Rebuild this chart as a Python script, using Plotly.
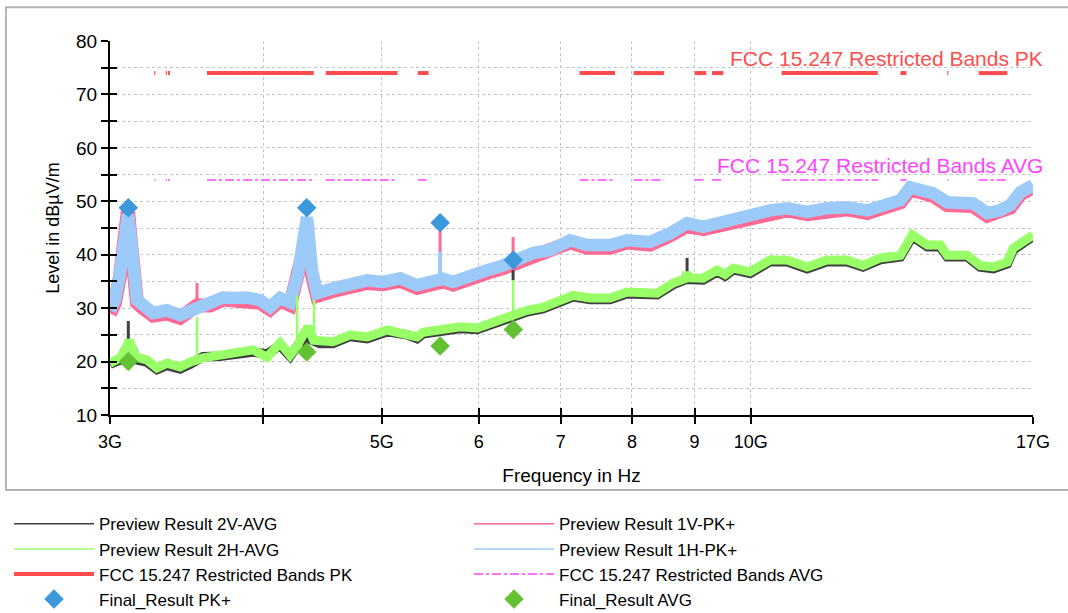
import numpy as np
import plotly.graph_objects as go

# ---------------- data (frequencies in GHz, levels in dBuV/m) ----------------
pk_freq_ghz = [3.000, 3.028, 3.057, 3.086, 3.103, 3.121, 3.133, 3.156, 3.192, 3.253,
               3.339, 3.422, 3.533, 3.621, 3.710, 3.780, 3.881, 3.977, 4.053, 4.130,
               4.208, 4.272, 4.313, 4.344, 4.386, 4.427, 4.562, 4.711, 4.864, 5.013,
               5.174, 5.342, 5.444, 5.547, 5.579, 5.611, 5.717, 5.902,
               6.094, 6.280, 6.399, 6.484, 6.644, 6.860, 7.122, 7.353,
               7.678, 7.927, 8.277, 8.594, 8.874, 9.146, 9.389, 9.621, 9.989, 10.37,
               10.71, 11.12, 11.54, 11.99, 12.45, 12.93, 13.25, 13.50, 13.75, 14.09,
               14.47, 14.83, 15.19, 15.60, 15.98, 16.29, 16.60, 17.00]
pk_1h = [29.6, 31.5, 36.5, 46.5, 47.5, 42.7, 35.8, 31.5, 30.6, 29.1,
         29.6, 28.7, 30.0, 31.0, 32.0, 31.9, 32.0, 31.5, 30.2, 31.9,
         31.1, 36.5, 44.0, 47.0, 37.0, 32.8, 33.7, 34.3, 35.2, 34.9,
         35.6, 34.3, 34.9, 35.5, 35.6, 35.5, 34.9, 36.2,
         37.1, 38.0, 38.8, 39.3, 40.3, 40.9, 42.7, 41.8,
         41.8, 42.7, 42.4, 44.0, 45.9, 45.2, 45.9, 46.5, 47.0, 48.3,
         48.7, 48.0, 48.7, 48.9, 48.3, 49.3, 50.2, 52.6, 52.1, 51.5,
         49.8, 49.8, 49.6, 47.8, 48.3, 49.3, 51.7, 53.0]
pk_1v = [29.0, 31.0, 36.0, 47.0, 48.3, 42.0, 35.2, 31.0, 30.0, 28.6,
         29.0, 28.2, 30.5, 30.5, 31.6, 31.4, 31.6, 31.0, 29.8, 31.4,
         30.6, 37.5, 40.5, 40.0, 36.0, 32.3, 33.2, 33.9, 34.7, 34.5,
         35.1, 33.8, 34.5, 35.0, 35.0, 35.0, 34.4, 35.7,
         36.6, 37.5, 38.2, 38.8, 39.8, 40.5, 42.3, 41.3,
         41.3, 42.3, 41.9, 43.6, 45.4, 44.8, 45.4, 46.0, 46.6, 47.8,
         48.3, 47.6, 48.2, 48.5, 47.8, 48.9, 49.8, 52.3, 51.7, 51.0,
         49.3, 49.3, 49.1, 47.3, 47.8, 48.8, 51.3, 52.6]

avg_freq_ghz = [3.000, 3.057, 3.086, 3.109, 3.133, 3.156, 3.216, 3.277, 3.339, 3.422,
                3.487, 3.530, 3.537, 3.573, 3.689, 3.809, 3.924, 4.030, 4.130, 4.208,
                4.260, 4.268, 4.288, 4.352, 4.398, 4.406, 4.450, 4.562, 4.711, 4.864,
                5.050, 5.243, 5.342, 5.404, 5.611, 5.793, 5.981, 6.164, 6.363, 6.395,
                6.403, 6.570, 6.771, 6.987, 7.163, 7.394, 7.678, 7.927, 8.170, 8.387,
                8.644, 8.860, 8.874, 8.888, 9.146, 9.389, 9.530, 9.680, 9.989, 10.37,
                10.71, 11.12, 11.54, 11.99, 12.35, 12.76, 13.25, 13.55, 13.94, 14.28,
                14.47, 15.02, 15.39, 15.78, 16.20, 16.38, 17.00]
avg_2h = [19.7, 20.7, 22.0, 24.0, 22.0, 20.8, 20.3, 18.8, 19.7, 19.0,
          19.9, 20.4, 20.5, 20.7, 21.2, 21.6, 22.2, 20.8, 23.5, 21.2,
          22.5, 23.0, 24.0, 26.5, 24.0, 24.0, 23.7, 23.7, 25.0, 24.6,
          25.9, 25.3, 24.6, 25.5, 25.9, 26.5, 26.3, 27.4, 28.7, 28.9,
          29.0, 29.6, 30.2, 31.5, 32.4, 31.9, 31.9, 33.0, 32.8, 32.8,
          34.7, 35.6, 36.8, 35.7, 35.6, 37.1, 36.3, 37.5, 36.8, 39.0,
          39.0, 37.7, 39.0, 39.0, 38.0, 39.4, 39.9, 43.7, 41.8, 41.8,
          39.9, 39.9, 38.0, 37.7, 38.6, 41.2, 43.7]
avg_2v = [19.5, 20.3, 22.0, 23.4, 22.0, 20.3, 19.9, 18.5, 19.3, 18.6,
          19.5, 20.0, 20.1, 20.9, 21.0, 21.3, 21.8, 21.4, 23.0, 21.0,
          22.3, 22.8, 23.6, 24.3, 23.8, 23.8, 23.4, 23.4, 24.7, 24.3,
          25.6, 25.0, 24.3, 25.2, 25.6, 26.2, 26.0, 27.1, 28.4, 28.6,
          28.7, 29.3, 29.9, 31.2, 32.1, 31.6, 31.6, 32.7, 32.5, 32.5,
          34.4, 35.4, 36.5, 35.4, 35.3, 36.8, 36.0, 37.2, 36.5, 38.7,
          38.7, 37.4, 38.7, 38.7, 37.7, 39.1, 39.6, 43.4, 41.5, 41.5,
          39.6, 39.6, 37.7, 37.4, 38.3, 40.9, 43.4]

# narrow single-bin spikes (frequency, level at the foot, level at the tip)
spike_2h_ghz = [3.533, 4.264, 4.402, 6.399]
spike_2h_base = [20.4, 22.8, 24.0, 28.9]
spike_2h_top = [28.3, 32.4, 31.5, 35.2]
spike_2v_ghz = [3.105, 6.399, 8.874]
spike_2v_base = [23.0, 35.2, 36.8]
spike_2v_top = [27.6, 37.1, 39.4]
spike_1v_ghz = [3.533, 5.579, 6.399]
spike_1v_base = [30.5, 35.0, 38.2]
spike_1v_top = [34.7, 44.5, 43.3]
spike_1h_ghz = [5.579]
spike_1h_base = [35.6]
spike_1h_top = [40.5]

band_start_ghz = [3.260, 3.332, 3.3458, 3.600, 4.500, 5.350, 7.250, 8.025, 9.000, 9.300,
                  10.600, 13.250, 14.470, 15.350]
band_stop_ghz = [3.267, 3.339, 3.358, 4.400, 5.150, 5.460, 7.750, 8.500, 9.200, 9.500,
                 12.700, 13.400, 14.500, 16.200]
limit_pk = 74.0
limit_avg = 54.0

final_freq_ghz = [3.105, 4.342, 5.579, 6.402]
final_pk = [48.8, 48.8, 46.0, 39.0]
final_avg = [20.0, 21.8, 22.9, 26.0]

x_tick_ghz = [3, 4, 5, 6, 7, 8, 9, 10, 17]
x_tick_text = ["3G", "", "5G", "6", "7", "8", "9", "10G", "17G"]
y_tick_vals = list(range(10, 81, 5))
y_tick_text = [str(v) if v % 10 == 0 else "" for v in y_tick_vals]

assert len(pk_freq_ghz) == len(pk_1h) == len(pk_1v)
assert len(avg_freq_ghz) == len(avg_2h) == len(avg_2v)

GHZ = 1e9
pk_f = np.array(pk_freq_ghz) * GHZ
avg_f = np.array(avg_freq_ghz) * GHZ


def segments(xs, y0s, y1s):
    sx, sy = [], []
    for x, a, b in zip(xs, y0s, y1s):
        sx += [x * GHZ, x * GHZ, None]
        sy += [a, b, None]
    return sx, sy


band_x, band_pk_y, band_avg_y = [], [], []
for a, b in zip(band_start_ghz, band_stop_ghz):
    band_x += [a * GHZ, b * GHZ, None]
    band_pk_y += [limit_pk, limit_pk, None]
    band_avg_y += [limit_avg, limit_avg, None]

# ---------------- styles ----------------
FONT = "Liberation Sans, Arial, Helvetica, sans-serif"
C_2V = "#404040"
C_2H = "#99ff66"
C_1V = "#ff6b95"
C_1H = "#9ccbfa"
C_RED = "#ff4d4d"
C_MAG = "#ff44ff"
C_MK_PK = "#3d97db"
C_MK_AVG = "#63c234"

fig = go.Figure()


def add_spikes(xs, y0s, y1s, color, width):
    sx, sy = segments(xs, y0s, y1s)
    fig.add_trace(go.Scatter(x=sx, y=sy, mode="lines", line=dict(color=color, width=width),
                             showlegend=False, hoverinfo="skip"))


# limit lines
fig.add_trace(go.Scatter(x=band_x, y=band_pk_y, mode="lines", line=dict(color=C_RED, width=4),
                         showlegend=False, hoverinfo="skip"))
fig.add_trace(go.Scatter(x=band_x, y=band_avg_y, mode="lines",
                         line=dict(color=C_MAG, width=1.5, dash="dashdot"),
                         showlegend=False, hoverinfo="skip"))
# preview traces
add_spikes(spike_1v_ghz, spike_1v_base, spike_1v_top, C_1V, 3)
fig.add_trace(go.Scatter(x=pk_f, y=pk_1v, mode="lines", line=dict(color=C_1V, width=14),
                         showlegend=False))
add_spikes(spike_1h_ghz, spike_1h_base, spike_1h_top, C_1H, 4)
fig.add_trace(go.Scatter(x=pk_f, y=pk_1h, mode="lines", line=dict(color=C_1H, width=12.5),
                         showlegend=False))
fig.add_trace(go.Scatter(x=avg_f, y=avg_2v, mode="lines", line=dict(color=C_2V, width=9.5),
                         showlegend=False))
add_spikes(spike_2v_ghz, spike_2v_base, spike_2v_top, C_2V, 3)
fig.add_trace(go.Scatter(x=avg_f, y=avg_2h, mode="lines", line=dict(color=C_2H, width=9),
                         showlegend=False))
add_spikes(spike_2h_ghz, spike_2h_base, spike_2h_top, C_2H, 2.5)
# final results
fig.add_trace(go.Scatter(x=np.array(final_freq_ghz) * GHZ, y=final_pk, mode="markers",
                         marker=dict(symbol="diamond", size=15, color=C_MK_PK), showlegend=False))
fig.add_trace(go.Scatter(x=np.array(final_freq_ghz) * GHZ, y=final_avg, mode="markers",
                         marker=dict(symbol="diamond", size=15, color=C_MK_AVG), showlegend=False))

# legend entries
legend_items = [
    ("Preview Result 2V-AVG", dict(mode="lines", line=dict(color=C_2V, width=1.5)), 1),
    ("Preview Result 1V-PK+", dict(mode="lines", line=dict(color=C_1V, width=1.5)), 2),
    ("Preview Result 2H-AVG", dict(mode="lines", line=dict(color=C_2H, width=1.5)), 3),
    ("Preview Result 1H-PK+", dict(mode="lines", line=dict(color=C_1H, width=1.5)), 4),
    ("FCC 15.247 Restricted Bands PK", dict(mode="lines", line=dict(color=C_RED, width=4)), 5),
    ("FCC 15.247 Restricted Bands AVG", dict(mode="lines", line=dict(color=C_MAG, width=1.5, dash="dashdot")), 6),
    ("Final_Result PK+", dict(mode="markers", marker=dict(symbol="diamond", size=15, color=C_MK_PK)), 7),
    ("Final_Result AVG", dict(mode="markers", marker=dict(symbol="diamond", size=15, color=C_MK_AVG)), 8),
]
for name, kw, rank in legend_items:
    fig.add_trace(go.Scatter(x=[None], y=[None], name=name, legendrank=rank, showlegend=True, **kw))

# dummy trace for overlay tick axes (inner half of the crossing ticks)
fig.add_trace(go.Scatter(x=[None], y=[None], xaxis="x2", yaxis="y2", showlegend=False, hoverinfo="skip"))

xr = [np.log10(3 * GHZ), np.log10(17 * GHZ)]
x_tick_vals = [v * GHZ for v in x_tick_ghz]

fig.update_layout(
    width=1068, height=613,
    margin=dict(l=110, r=35, t=41, b=198, autoexpand=False),
    paper_bgcolor="white", plot_bgcolor="white",
    font=dict(family=FONT, size=18, color="black"),
    showlegend=True,
    legend=dict(orientation="h", x=-0.1094, y=-0.244, xanchor="left", yanchor="top",
                entrywidth=365, entrywidthmode="pixels", itemwidth=80,
                font=dict(family=FONT, size=17, color="black"),
                bgcolor="rgba(0,0,0,0)", tracegroupgap=0),
    xaxis=dict(type="log", range=xr, tickvals=x_tick_vals, ticktext=x_tick_text,
               ticks="outside", ticklen=7, tickwidth=1.5, tickcolor="black",
               showline=True, linecolor="black", linewidth=2,
               showgrid=True, gridcolor="#c4c4c4", griddash="dot", gridwidth=1,
               zeroline=False, tickfont=dict(size=18, family=FONT),
               ticklabelstandoff=2, automargin=False,
               title=dict(text="Frequency in Hz", font=dict(size=19, family=FONT), standoff=18)),
    yaxis=dict(range=[10, 80], tickvals=y_tick_vals, ticktext=y_tick_text,
               ticks="outside", ticklen=7, tickwidth=1.5, tickcolor="black",
               showline=True, linecolor="black", linewidth=2,
               showgrid=True, gridcolor="#c4c4c4", griddash="dot", gridwidth=1,
               zeroline=False, tickfont=dict(size=19, family=FONT), automargin=False,
               title=dict(text="Level in dBµV/m", font=dict(size=18, family=FONT), standoff=12)),
    xaxis2=dict(type="log", range=xr, overlaying="x", anchor="y2", tickvals=x_tick_vals,
                ticks="inside", ticklen=7, tickwidth=1.5, tickcolor="black",
                showticklabels=False, showgrid=False, showline=False, zeroline=False),
    yaxis2=dict(range=[10, 80], overlaying="y", anchor="x2", tickvals=y_tick_vals,
                ticks="inside", ticklen=7, tickwidth=1.5, tickcolor="black",
                showticklabels=False, showgrid=False, showline=False, zeroline=False),
    annotations=[
        dict(text="FCC 15.247 Restricted Bands PK", xref="paper", yref="paper",
             x=1.013, y=0.954, xanchor="right", yanchor="middle", showarrow=False,
             font=dict(color=C_RED, size=21, family=FONT)),
        dict(text="FCC 15.247 Restricted Bands AVG", xref="paper", yref="paper",
             x=1.013, y=0.668, xanchor="right", yanchor="middle", showarrow=False,
             font=dict(color=C_MAG, size=21, family=FONT)),
    ],
    shapes=[
        dict(type="rect", xref="paper", yref="paper", x0=-0.1127, x1=1.06, y0=-0.2004, y1=1.090,
             line=dict(color="#b4b4b4", width=2), layer="below"),
    ],
)

fig.write_html("out.html", config={"displayModeBar": False},
               post_script="document.body.style.margin='0px';document.body.style.padding='0px';")
